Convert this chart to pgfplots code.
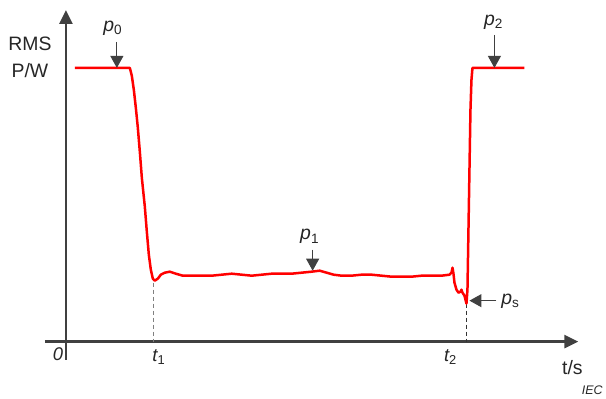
\documentclass[border=0pt]{standalone}
\usepackage{pgfplots}
\pgfplotsset{compat=1.18}
\usepackage{fontspec}
\setmainfont{Liberation Sans}
\usetikzlibrary{arrows.meta}
\definecolor{axgray}{HTML}{404040}
\begin{document}
\begin{tikzpicture}
\begin{axis}[
  scale only axis, width=606bp, height=399bp,
  xmin=0, xmax=606, ymin=0, ymax=399, y dir=reverse,
  hide axis, clip=false,
]
\path[draw=none] (axis cs:0,0) rectangle (axis cs:606,399);
% axes
\draw[axgray, line width=2.6bp, -{Triangle[length=14bp,width=13bp]}] (axis cs:66,360) -- (axis cs:66,10);
\draw[axgray, line width=2.6bp, -{Triangle[length=14bp,width=13bp]}] (axis cs:45,342) -- (axis cs:579,342);
% dashed guides
\draw[gray, line width=0.9bp, dash pattern=on 4bp off 3bp] (axis cs:154,283) -- (axis cs:154,342);
\draw[gray!40!black, line width=0.9bp, dash pattern=on 4bp off 3bp] (axis cs:467,304) -- (axis cs:467,342);
% curve
\addplot[red, line width=2.5bp, line join=round] coordinates {
(75,68) (130,68) (132,76) (134,90) (136,108) (138,128) (140,152) (142,178) (145,207) (147,232) (149,255) (151,270) (153,279) (155,281) (158,279) (161,275) (165,273) (170,272) (176,274) (183,276) (192,276) (202,276) (212,276) (222,275) (232,274) (242,275) (252,276) (262,275) (272,274) (282,274) (292,274) (302,273) (312,272) (320,271) (327,273) (334,275) (342,276) (352,276) (362,275) (372,275) (382,276) (392,277) (402,277) (412,277) (422,276) (432,276) (442,276) (450,275) (452,273) (453,268) (454,274) (455,283) (457,290) (459,293) (461,292) (462,290) (463,293) (465,296) (466,300) (467,304) (468,290) (469,230) (470,170) (471,110) (472,80) (473,68) (525,68)
};
% labels
\node[font=\fontsize{19.5}{27}\selectfont, align=center, text=black!85] at (axis cs:30,57) {RMS\\P/W};
\node[font=\fontsize{19.5}{19}\selectfont\itshape, text=black!85] at (axis cs:113,28) {p\textsubscript{\upshape 0}};
\draw[axgray, line width=1bp, -{Triangle[length=12bp,width=13bp]}] (axis cs:117,42) -- (axis cs:117,68);
\node[font=\fontsize{19.5}{19}\selectfont\itshape, text=black!85] at (axis cs:494,22) {p\textsubscript{\upshape 2}};
\draw[axgray, line width=1bp, -{Triangle[length=12bp,width=13bp]}] (axis cs:495,35) -- (axis cs:495,68);
\node[font=\fontsize{19.5}{19}\selectfont\itshape, text=black!85] at (axis cs:310,237) {p\textsubscript{\upshape 1}};
\draw[axgray, line width=1bp, -{Triangle[length=12bp,width=13bp]}] (axis cs:313,250) -- (axis cs:313,271);
\node[font=\fontsize{19.5}{19}\selectfont\itshape, text=black!85] at (axis cs:511,302) {p\textsubscript{\upshape s}};
\draw[axgray, line width=1bp, -{Triangle[length=12bp,width=13bp]}] (axis cs:497,301) -- (axis cs:470,301);
\node[font=\fontsize{18.5}{18}\selectfont\itshape, text=black!85] at (axis cs:159,357) {t\textsubscript{\upshape 1}};
\node[font=\fontsize{18.5}{18}\selectfont\itshape, text=black!85] at (axis cs:451,357) {t\textsubscript{\upshape 2}};
\node[font=\fontsize{18.5}{18}\selectfont\itshape, text=black!85] at (axis cs:58,355) {0};
\node[font=\fontsize{19.5}{19}\selectfont, text=black!85] at (axis cs:573,368) {t/s};
\node[font=\fontsize{12.5}{12}\selectfont\itshape, text=black!85] at (axis cs:593,391) {IEC};
\end{axis}
\end{tikzpicture}
\end{document}
